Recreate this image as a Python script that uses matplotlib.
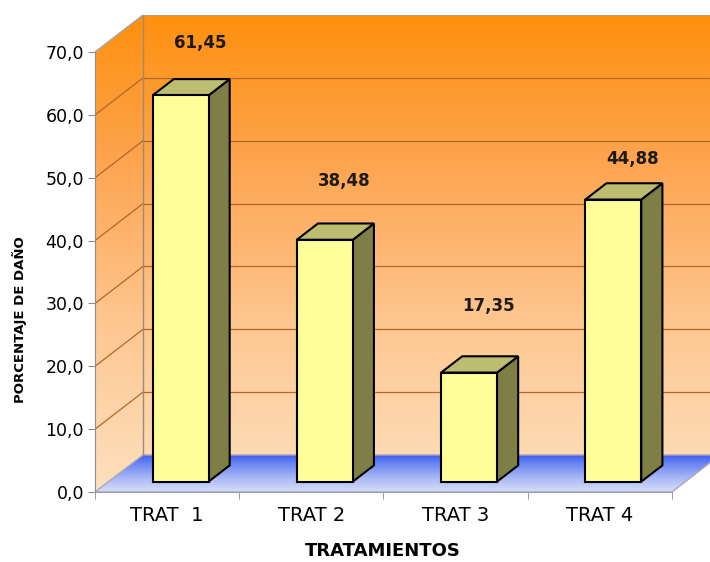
import numpy as np
import matplotlib
matplotlib.use("Agg")
import matplotlib.pyplot as plt
from matplotlib.patches import Polygon
from matplotlib.colors import LinearSegmentedColormap

# ── Data ──
categorias = ["TRAT  1", "TRAT 2", "TRAT 3", "TRAT 4"]
porcentaje = [61.45, 38.48, 17.35, 44.88]
y_ticks = [0, 10, 20, 30, 40, 50, 60, 70]
# vertical offset of each value label above its bar (value units)
label_dy = [10.0, 11.0, 12.2, 8.1]

# ── 3D-look geometry (data units) ──
DX, DY = 0.333, 5.89          # depth shift of the back wall
F0, F1 = 0.28, 0.72           # bar front / back depth fraction
HW = 0.194                    # bar half width
YMAX = 70

fig = plt.figure(figsize=(7.1, 5.62), dpi=100)
W, H = 710, 562
ax = fig.add_axes([95 / W, (H - 492) / H, 625 / W, 477 / H])
ax.set_xlim(0.5, 4.5 + DX)
ax.set_ylim(0, YMAX + DY)
ax.set_facecolor("none")

# walls (left + back) with orange gradient
wall_cmap = LinearSegmentedColormap.from_list(
    "wall", [(0, "#FEE0BE"), (0.35, "#FDC791"), (0.7, "#FDA44E"), (1, "#FF900E")])
wall_poly = Polygon([(0.5, 0), (0.5 + DX, DY), (4.5 + DX, DY),
                     (4.5 + DX, YMAX + DY), (0.5 + DX, YMAX + DY), (0.5, YMAX)],
                    closed=True, facecolor="none", edgecolor="none")
ax.add_patch(wall_poly)
grad = np.linspace(0, 1, 256).reshape(-1, 1)
im = ax.imshow(grad, extent=[0.5, 4.5 + DX, 0, YMAX + DY], origin="lower",
               cmap=wall_cmap, aspect="auto", zorder=0, interpolation="bilinear")
im.set_clip_path(wall_poly)

# floor with blue gradient
floor_cmap = LinearSegmentedColormap.from_list(
    "floor", [(0, "#D8DEF9"), (0.4, "#A4B4F6"), (0.75, "#6A84F2"), (1, "#3A5AF0")])
floor_poly = Polygon([(0.5, 0), (4.5, 0), (4.5 + DX, DY), (0.5 + DX, DY)],
                     closed=True, facecolor="none", edgecolor="#A8A8B8", lw=1, zorder=1)
ax.add_patch(floor_poly)
im2 = ax.imshow(grad, extent=[0.5, 4.5 + DX, 0, DY], origin="lower",
                cmap=floor_cmap, aspect="auto", zorder=0.5, interpolation="bilinear")
im2.set_clip_path(floor_poly)

# gridlines on back and left walls
grid_col = "#B0672A"
for v in y_ticks[1:-1]:
    ax.plot([0.5 + DX, 4.5 + DX], [v + DY, v + DY], color=grid_col, lw=0.9, zorder=1)
    ax.plot([0.5, 0.5 + DX], [v, v + DY], color=grid_col, lw=0.9, zorder=1)
ax.plot([0.5, 0.5 + DX, 4.5 + DX], [YMAX, YMAX + DY, YMAX + DY],
        color="#A4A4A4", lw=1, zorder=1)
ax.plot([0.5 + DX, 0.5 + DX], [DY, YMAX + DY], color="#A08A74", lw=1, zorder=1)

# bars
for i, v in enumerate(porcentaje, start=1):
    x0f, x1f = i - HW + F0 * DX, i + HW + F0 * DX
    x0b, x1b = i - HW + F1 * DX, i + HW + F1 * DX
    yf, yb = F0 * DY, F1 * DY
    side = Polygon([(x1f, yf), (x1b, yb), (x1b, v + yb), (x1f, v + yf)],
                   facecolor="#7F7F45", edgecolor="black", lw=1.5, zorder=3)
    top = Polygon([(x0f, v + yf), (x1f, v + yf), (x1b, v + yb), (x0b, v + yb)],
                  facecolor="#BDBD72", edgecolor="black", lw=1.5, zorder=3)
    front = Polygon([(x0f, yf), (x1f, yf), (x1f, v + yf), (x0f, v + yf)],
                    facecolor="#FFFF99", edgecolor="black", lw=1.5, zorder=4)
    for p in (side, top, front):
        ax.add_patch(p)
    ax.text(i + 0.69 * DX, v + label_dy[i - 1], f"{v:.2f}".replace(".", ","),
            ha="center", va="center", fontsize=12, fontweight="bold",
            color="#1E1A16", zorder=5)

# axes styling
for s in ("top", "right"):
    ax.spines[s].set_visible(False)
ax.spines["left"].set_bounds(0, YMAX)
ax.spines["left"].set_color("#8C8C8C")
ax.spines["bottom"].set_bounds(0.5, 4.5)
ax.spines["bottom"].set_color("#A0A0A8")
ax.spines["left"].set_zorder(2)

ax.set_yticks(y_ticks)
ax.set_yticklabels([f"{t:.1f}".replace(".", ",") for t in y_ticks], fontsize=12.5)
ax.tick_params(axis="y", direction="out", length=5, color="#8C8C8C", pad=3)

ax.set_xticks([1, 2, 3, 4])
ax.set_xticklabels(categorias, fontsize=14)
ax.set_xticks([0.5, 1.5, 2.5, 3.5, 4.5], minor=True)
ax.tick_params(axis="x", which="major", length=0, pad=10)
ax.tick_params(axis="x", which="minor", direction="out", length=5, color="#8C8C8C")

fig.text(383 / W, 1 - 551 / H, "TRATAMIENTOS", ha="center", va="center",
         fontsize=13, fontweight="bold")
fig.text(20 / W, 1 - 320 / H, "PORCENTAJE DE DAÑO", ha="center", va="center",
         rotation=90, fontsize=9.5, fontweight="heavy")

fig.savefig("out.png", dpi=100)
